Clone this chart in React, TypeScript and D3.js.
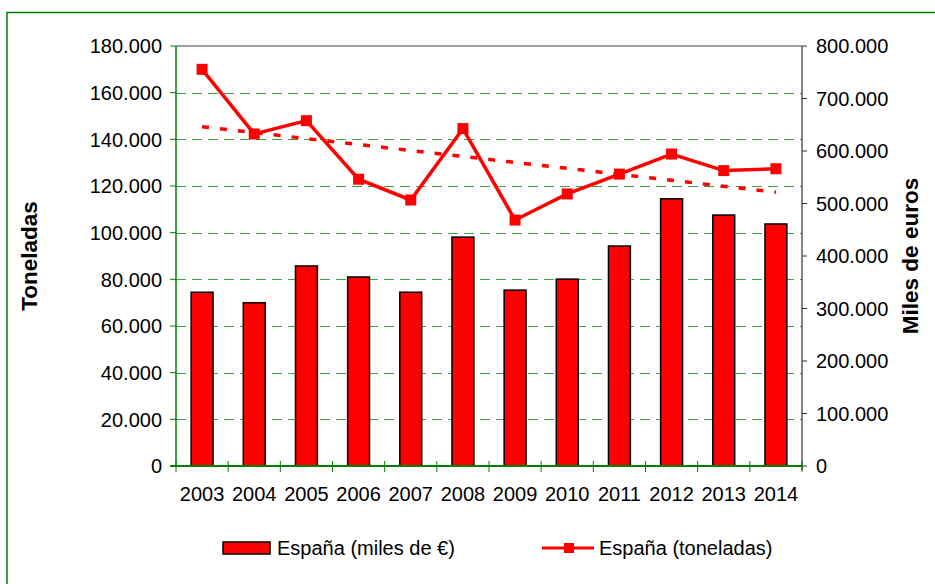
import { useEffect, useRef } from "react";
import * as d3 from "d3";

const years = ["2003", "2004", "2005", "2006", "2007", "2008", "2009", "2010", "2011", "2012", "2013", "2014"];
// miles de euros (right axis)
const milesEuros = [331000, 311000, 381000, 360000, 331000, 436000, 335000, 356000, 419000, 509000, 478000, 461000];
// toneladas (left axis)
const toneladas = [170000, 142300, 148000, 122900, 114000, 144600, 105400, 116600, 125100, 133700, 126600, 127400];
const leftTicks = [0, 20000, 40000, 60000, 80000, 100000, 120000, 140000, 160000, 180000];
const rightTicks = [0, 100000, 200000, 300000, 400000, 500000, 600000, 700000, 800000];

const W = 935;
const H = 584;
const FONT = "'Liberation Sans', Arial, sans-serif";
const GREEN = "#008000";

export default function App() {
  const ref = useRef<SVGSVGElement | null>(null);

  useEffect(() => {
    if (!ref.current) return;
    const svg = d3.select(ref.current);
    svg.selectAll("*").remove();

    const left = 176;
    const right = 802;
    const top = 46;
    const bottom = 466;

    const fmt = d3.formatLocale({ decimal: ",", thousands: ".", grouping: [3], currency: ["", "€"] }).format(",d");

    const x = d3.scaleBand<string>().domain(years).range([left, right]);
    const yL = d3.scaleLinear().domain([0, 180000]).range([bottom, top]);
    const yR = d3.scaleLinear().domain([0, 800000]).range([bottom, top]);

    // outer frame
    svg
      .append("rect")
      .attr("x", 7)
      .attr("y", 12.5)
      .attr("width", 1000)
      .attr("height", 1000)
      .attr("fill", "none")
      .attr("stroke", GREEN)
      .attr("stroke-width", 1.5);

    // gridlines
    svg
      .append("g")
      .selectAll("line")
      .data(leftTicks.filter((d) => d > 0 && d < 180000))
      .enter()
      .append("line")
      .attr("x1", left)
      .attr("x2", right)
      .attr("y1", (d) => Math.round(yL(d)) + 0.5)
      .attr("y2", (d) => Math.round(yL(d)) + 0.5)
      .attr("stroke", "#1f961f")
      .attr("stroke-opacity", 0.85)
      .attr("stroke-dasharray", "10,6");

    // top frame line
    svg
      .append("line")
      .attr("x1", left)
      .attr("x2", right)
      .attr("y1", top)
      .attr("y2", top)
      .attr("stroke", "#808080")
      .attr("stroke-width", 1.5);

    // bars
    const bw = x.bandwidth() * 0.42;
    svg
      .append("g")
      .selectAll("rect")
      .data(milesEuros)
      .enter()
      .append("rect")
      .attr("x", (_, i) => (x(years[i]) as number) + x.bandwidth() / 2 - bw / 2)
      .attr("y", (d) => yR(d))
      .attr("width", bw)
      .attr("height", (d) => bottom - yR(d))
      .attr("fill", "#ff0000")
      .attr("stroke", "#000")
      .attr("stroke-width", 1.5);

    const cx = (i: number) => (x(years[i]) as number) + x.bandwidth() / 2;

    // linear trend of toneladas
    const xs = years.map((_, i) => i);
    const mx = d3.mean(xs) as number;
    const my = d3.mean(toneladas) as number;
    const slope =
      d3.sum(xs, (v, i) => (v - mx) * (toneladas[i] - my)) / d3.sum(xs, (v) => (v - mx) * (v - mx));
    const trend = [0, years.length - 1].map((i) => ({ i, v: my + slope * (i - mx) }));
    svg
      .append("path")
      .datum(trend)
      .attr(
        "d",
        d3
          .line<{ i: number; v: number }>()
          .x((d) => cx(d.i))
          .y((d) => yL(d.v))
      )
      .attr("fill", "none")
      .attr("stroke", "#ff0000")
      .attr("stroke-width", 3.5)
      .attr("stroke-dasharray", "7,11");

    // toneladas line
    svg
      .append("path")
      .datum(toneladas)
      .attr(
        "d",
        d3
          .line<number>()
          .x((_, i) => cx(i))
          .y((d) => yL(d))
      )
      .attr("fill", "none")
      .attr("stroke", "#ff0000")
      .attr("stroke-width", 3.5);

    svg
      .append("g")
      .selectAll("rect")
      .data(toneladas)
      .enter()
      .append("rect")
      .attr("x", (_, i) => cx(i) - 5.5)
      .attr("y", (d) => yL(d) - 5.5)
      .attr("width", 11)
      .attr("height", 11)
      .attr("fill", "#ff0000");

    // left axis
    const gl = svg.append("g");
    gl.append("line")
      .attr("x1", left)
      .attr("x2", left)
      .attr("y1", top)
      .attr("y2", bottom)
      .attr("stroke", GREEN)
      .attr("stroke-width", 1.5);
    leftTicks.forEach((t) => {
      gl.append("line")
        .attr("x1", left - 6)
        .attr("x2", left)
        .attr("y1", yL(t))
        .attr("y2", yL(t))
        .attr("stroke", GREEN);
      gl.append("text")
        .attr("x", left - 14)
        .attr("y", yL(t))
        .attr("dy", "0.36em")
        .attr("text-anchor", "end")
        .attr("font-size", 20)
        .attr("font-family", FONT)
        .text(fmt(t));
    });

    // right axis
    const gr = svg.append("g");
    gr.append("line")
      .attr("x1", right)
      .attr("x2", right)
      .attr("y1", top)
      .attr("y2", bottom + 4)
      .attr("stroke", "#333")
      .attr("stroke-width", 1.2);
    rightTicks.forEach((t) => {
      gr.append("line")
        .attr("x1", right)
        .attr("x2", right + 5)
        .attr("y1", yR(t))
        .attr("y2", yR(t))
        .attr("stroke", "#333");
      gr.append("text")
        .attr("x", right + 14)
        .attr("y", yR(t))
        .attr("dy", "0.36em")
        .attr("text-anchor", "start")
        .attr("font-size", 20)
        .attr("font-family", FONT)
        .text(fmt(t));
    });

    // bottom axis
    const gb = svg.append("g");
    gb.append("line")
      .attr("x1", left - 6)
      .attr("x2", right)
      .attr("y1", bottom)
      .attr("y2", bottom)
      .attr("stroke", GREEN)
      .attr("stroke-width", 2);
    d3.range(years.length + 1).forEach((i) => {
      const xx = left + i * x.step();
      gb.append("line")
        .attr("x1", xx)
        .attr("x2", xx)
        .attr("y1", bottom - 5)
        .attr("y2", bottom + 6)
        .attr("stroke", GREEN);
    });
    years.forEach((yv, i) => {
      gb.append("text")
        .attr("x", cx(i))
        .attr("y", 501)
        .attr("text-anchor", "middle")
        .attr("font-size", 20)
        .attr("font-family", FONT)
        .text(yv);
    });

    // axis titles
    svg
      .append("text")
      .attr("transform", `translate(37,${(top + bottom) / 2}) rotate(-90)`)
      .attr("text-anchor", "middle")
      .attr("font-size", 22.5)
      .attr("font-weight", "bold")
      .attr("font-family", FONT)
      .text("Toneladas");
    svg
      .append("text")
      .attr("transform", `translate(918,${(top + bottom) / 2}) rotate(-90)`)
      .attr("text-anchor", "middle")
      .attr("font-size", 22.5)
      .attr("font-weight", "bold")
      .attr("font-family", FONT)
      .text("Miles de euros");

    // legend
    const lg = svg.append("g").attr("font-family", FONT).attr("font-size", 20);
    lg.append("rect")
      .attr("x", 223)
      .attr("y", 542)
      .attr("width", 47)
      .attr("height", 12)
      .attr("fill", "#ff0000")
      .attr("stroke", "#000")
      .attr("stroke-width", 1.5);
    lg.append("text").attr("x", 277).attr("y", 555).text("España (miles de €)");
    lg.append("line")
      .attr("x1", 542)
      .attr("x2", 594)
      .attr("y1", 548)
      .attr("y2", 548)
      .attr("stroke", "#ff0000")
      .attr("stroke-width", 3);
    lg.append("rect")
      .attr("x", 564)
      .attr("y", 543)
      .attr("width", 10)
      .attr("height", 10)
      .attr("fill", "#ff0000");
    lg.append("text").attr("x", 599).attr("y", 555).text("España (toneladas)");
  }, []);

  return (
    <svg
      ref={ref}
      width={W}
      height={H}
      viewBox={`0 0 ${W} ${H}`}
      style={{ position: "absolute", left: 0, top: 0, background: "#fff" }}
    />
  );
}
